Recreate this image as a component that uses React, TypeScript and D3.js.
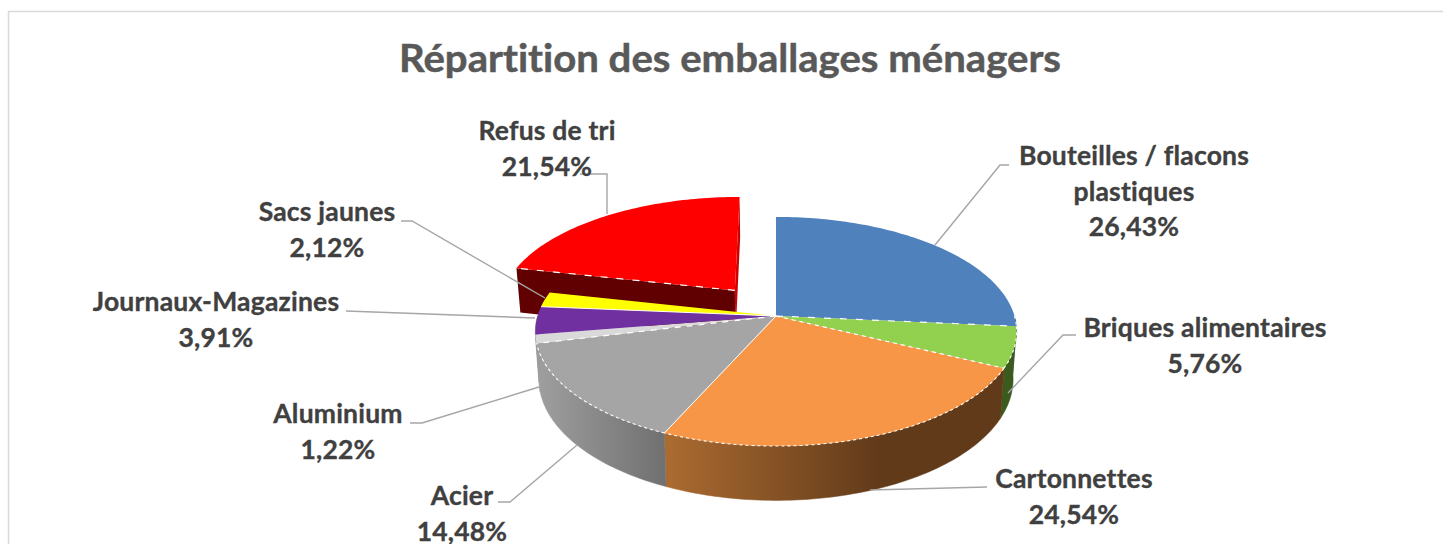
import React from "react";
import * as d3 from "d3";

const title = "Répartition des emballages ménagers";
const categories = ["Bouteilles / flacons plastiques", "Briques alimentaires", "Cartonnettes", "Acier", "Aluminium", "Journaux-Magazines", "Sacs jaunes", "Refus de tri"];
const values = [26.43, 5.76, 24.54, 14.48, 1.22, 3.91, 2.12, 21.54];
const valueLabels = ["26,43%", "5,76%", "24,54%", "14,48%", "1,22%", "3,91%", "2,12%", "21,54%"];
const topColors = ["#4f81bd", "#92d050", "#f79646", "#a5a5a5", "#d9d9d9", "#7030a0", "#ffff00", "#ff0000"];
const wallColors = ["#2f4d71", "#3a5a1e", "url(#wallOrange)", "url(#wallGrey)", "#9c9c9c", "#9c9c9c", "#9c9c9c", "#600000"];
const startEdgeDash = ["none", "7 9", "4 4", "none", "6 6", "none", "none", "7 9"];
const explodedU = [0, 0, 0, 0, 0, 0, 0, -0.178];
const explodedV = [0, 0, 0, 0, 0, 0, 0, 0.235];

const labelLines = [
  ["Bouteilles / flacons", "plastiques", "26,43%"],
  ["Briques alimentaires", "5,76%"],
  ["Cartonnettes", "24,54%"],
  ["Acier", "14,48%"],
  ["Aluminium", "1,22%"],
  ["Journaux-Magazines", "3,91%"],
  ["Sacs jaunes", "2,12%"],
  ["Refus de tri", "21,54%"],
];
const labelCenterX = [1134, 1205, 1074, 462, 338, 216, 327, 547];
const labelFirstBaseline = [165, 337, 488, 505, 423, 311, 221, 140];
const leaders: [number, number][][] = [
  [[1009, 165], [1000, 165], [935, 245]],
  [[1076, 335], [1063, 335], [1008, 393]],
  [[987, 487], [870, 490]],
  [[498, 502], [510, 502], [577, 445]],
  [[410, 423], [422, 423], [539, 387]],
  [[346, 311], [535, 318]],
  [[401, 221], [412, 221], [545, 298]],
  [[580, 174], [607, 174], [607, 214]],
];

const W = 1443, H = 544;
const cx = 776, cy = 316, Rx = 238.5, Ry = 112.5, persp = 0.135, depth = 47, bottomShrink = 0.985;

type P = [number, number];
const project = (u: number, v: number, lower = false): P => {
  const s = 1 / (1 + persp * v);
  const x = cx + Rx * u * s;
  const y = cy - Ry * v * s;
  return lower ? [cx + (x - cx) * bottomShrink, y + depth * s] : [x, y];
};

const arcPts = (a0: number, a1: number, u0: number, v0: number, lower = false): P[] => {
  const n = Math.max(2, Math.ceil(Math.abs(a1 - a0) / 0.02));
  return d3.range(n + 1).map((i) => {
    const a = a0 + ((a1 - a0) * i) / n;
    return project(u0 + Math.sin(a), v0 + Math.cos(a), lower);
  });
};

const line = d3.line<P>().x((d) => d[0]).y((d) => d[1]);
const closed = (pts: P[]) => (line(pts) as string) + "Z";

export default function App() {
  const slices = d3.pie<number>().sort(null).startAngle(0).endAngle(2 * Math.PI)(values);
  const Fr = Math.PI / 2, Ba = (3 * Math.PI) / 2;

  const renderWall = (i: number) => {
    const s = slices[i];
    const a0 = Math.max(s.startAngle, Fr), a1 = Math.min(s.endAngle, Ba);
    if (a1 <= a0) return null;
    const top = arcPts(a0, a1, explodedU[i], explodedV[i]);
    const bot = arcPts(a0, a1, explodedU[i], explodedV[i], true);
    return <path key={"w" + i} d={closed([...top, ...bot.reverse()])} fill={wallColors[i]} stroke={wallColors[i]} strokeWidth={0.5} />;
  };

  const renderTop = (i: number) => {
    const s = slices[i];
    const c = project(explodedU[i], explodedV[i]);
    const pts = [c, ...arcPts(s.startAngle, s.endAngle, explodedU[i], explodedV[i])];
    return <path key={"t" + i} d={closed(pts)} fill={topColors[i]} />;
  };

  const renderEdges = (i: number) => {
    const s = slices[i];
    const c = project(explodedU[i], explodedV[i]);
    const edgeEnd = project(explodedU[i] + Math.sin(s.startAngle), explodedV[i] + Math.cos(s.startAngle));
    const a0 = Math.max(s.startAngle, Fr), a1 = Math.min(s.endAngle, Ba);
    return (
      <g key={"e" + i} fill="none" stroke="#ffffff">
        {startEdgeDash[i] !== "none" && (
          <path d={line([c, edgeEnd]) as string} strokeWidth={1.2} strokeDasharray={startEdgeDash[i]} />
        )}
        {i === 3 && <path d={line([c, edgeEnd]) as string} strokeWidth={1} />}
        {i === 6 && <path d={line([c, edgeEnd]) as string} strokeWidth={1} />}
        {a1 > a0 && i < 4 && (
          <path d={line(arcPts(a0, a1, explodedU[i], explodedV[i])) as string} strokeWidth={1.1} strokeDasharray="3 3" />
        )}
      </g>
    );
  };

  const last = slices.length - 1;
  const ls = slices[last];
  const uE = explodedU[last], vE = explodedV[last];
  const cutFace = (a: number): P[] => {
    const p = [uE + Math.sin(a), vE + Math.cos(a)];
    return [project(uE, vE), project(p[0], p[1]), project(p[0], p[1], true), project(uE, vE, true)];
  };

  return (
    <svg width={W} height={H} style={{ position: "absolute", left: 0, top: 0 }} fontFamily="Lato, sans-serif">
      <defs>
        <linearGradient id="wallOrange" gradientUnits="userSpaceOnUse" x1={662} x2={880} y1={0} y2={0}>
          <stop offset="0" stopColor="#ad6c31" />
          <stop offset="1" stopColor="#613a1a" />
        </linearGradient>
        <linearGradient id="wallGrey" gradientUnits="userSpaceOnUse" x1={535} x2={662} y1={0} y2={0}>
          <stop offset="0" stopColor="#a0a0a0" />
          <stop offset="1" stopColor="#717171" />
        </linearGradient>
      </defs>
      <rect width={W} height={H} fill="#ffffff" />
      <path d={`M8.5 ${H}V11.5H${W}`} fill="none" stroke="#d9d9d9" strokeWidth={1.5} />
      <text x={730} y={72} textAnchor="middle" fontSize={39} fontWeight={700} fill="#595959" stroke="#595959" strokeWidth={0.5}
        textLength={662} lengthAdjust="spacingAndGlyphs" style={{ fontVariantLigatures: "none" }}>{title}</text>

      <path d={closed(cutFace(ls.startAngle))} fill={wallColors[last]} />
      <path d={closed(cutFace(ls.endAngle))} fill="#d00000" />
      {renderTop(last)}
      {renderEdges(last)}
      {slices.slice(0, last).map((_, i) => renderWall(i))}
      {slices.slice(0, last).map((_, i) => renderTop(i))}
      {slices.slice(0, last).map((_, i) => renderEdges(i))}

      {leaders.map((pts, i) => (
        <path key={"l" + i} d={line(pts) as string} fill="none" stroke="#a6a6a6" strokeWidth={1.4} />
      ))}
      {categories.map((cat, i) => (
        <text key={cat} textAnchor="middle" fontSize={26.5} fontWeight={700} fill="#404040" stroke="#404040" strokeWidth={0.35}
          letterSpacing={0.2} data-value={valueLabels[i]} style={{ fontVariantLigatures: "none" }}>
          {labelLines[i].map((t, j) => (
            <tspan key={j} x={labelCenterX[i]} y={labelFirstBaseline[i] + j * 35.5}>{t}</tspan>
          ))}
        </text>
      ))}
    </svg>
  );
}
